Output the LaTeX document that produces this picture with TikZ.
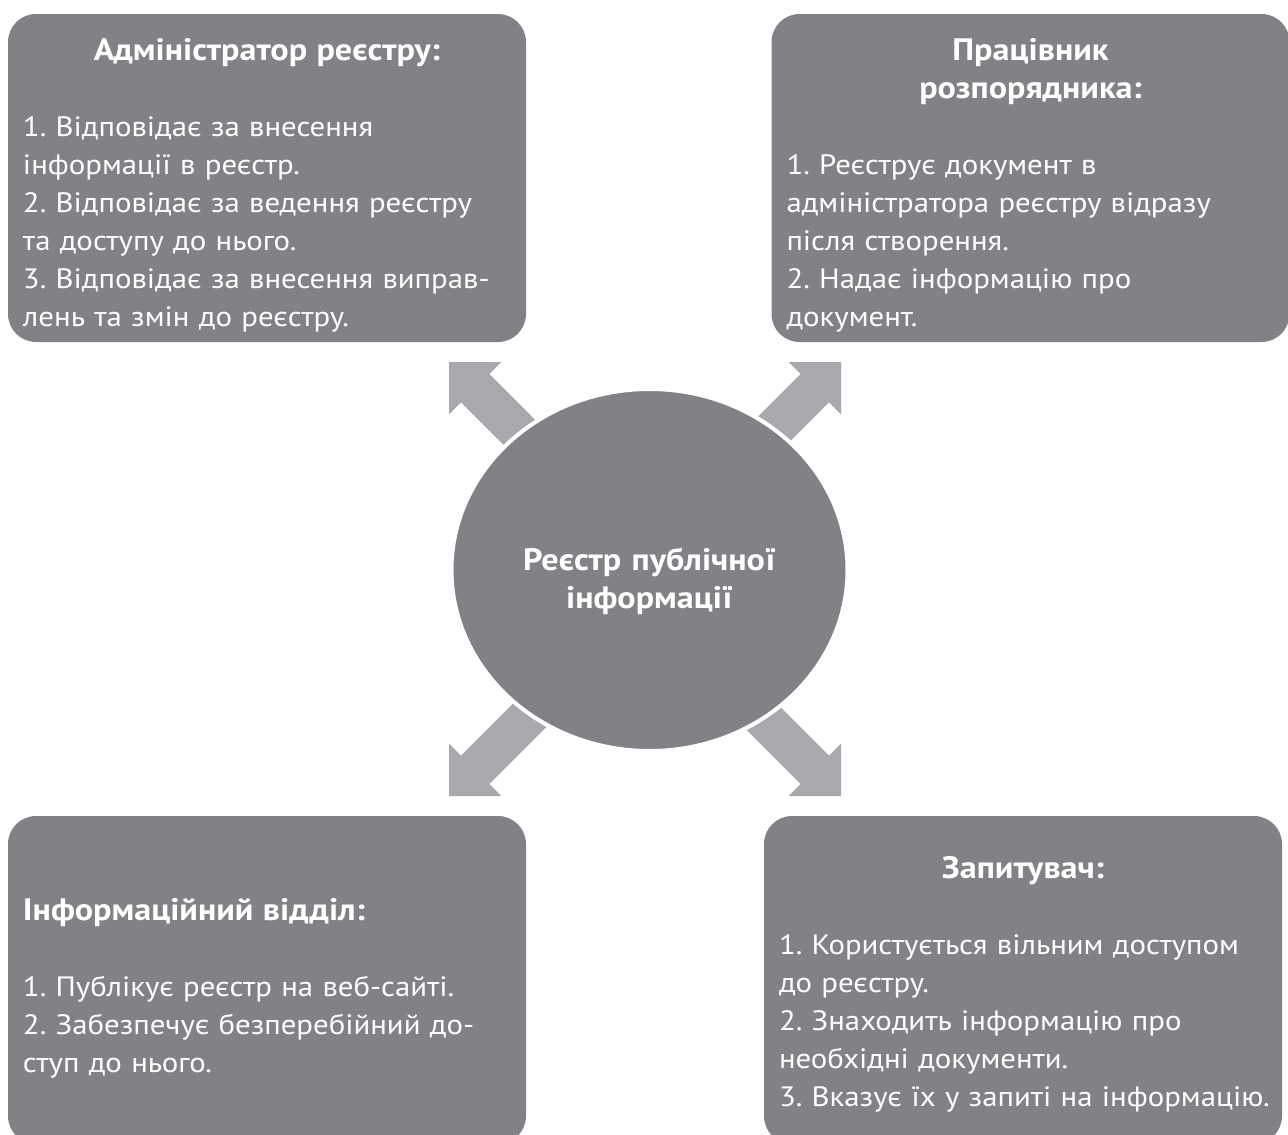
\documentclass[tikz,border=0pt]{standalone}
\usepackage{fontspec}
\setmainfont{PT Sans}[FakeStretch=1.1]
\usetikzlibrary{shapes.geometric,arrows.meta}
\definecolor{boxgrey}{HTML}{808285}
\definecolor{arrowgrey}{HTML}{A7A9AC}
\newcommand{\boxtitle}[2][\centering]{{#1\bfseries\fontsize{31}{38}\selectfont #2\par}\vspace{38pt}}

\begin{document}
\begin{tikzpicture}[x=1pt, y=-1pt,
  panel/.style={fill=boxgrey, rounded corners=28pt, minimum width=518pt, minimum height=328pt,
    text=white, text width=488pt, inner xsep=15pt, inner ysep=0pt, align=left,
    font=\fontsize{28}{38}\selectfont\frenchspacing},
  hub/.style={ellipse, fill=boxgrey, draw=white, line width=4pt, minimum width=396pt,
    minimum height=362pt, text=white, text width=272pt, align=center, text height=44pt,
    text depth=44pt, font=\bfseries\fontsize{31}{38}\selectfont},
  pointer/.style={draw=arrowgrey, line width=40pt, -{Triangle[width=74pt,length=37pt,line width=0pt]}}]
\path[use as bounding box, clip] (0,0) rectangle (1288,1135);
% the four panels
\node[panel, text height=46pt, text depth=282pt] (admin) at (267,178) {\boxtitle{Адміністратор реєстру:}%
1. Відповідає за внесення\\%
інформації в реєстр.\\%
2. Відповідає за ведення реєстру\\%
та доступу до нього.\\%
3. Відповідає за внесення виправ-\\%
лень та змін до реєстру.};
\node[panel, text height=46pt, text depth=282pt] (worker) at (1030.5,178) {\boxtitle{Працівник\\розпорядника:}%
1. Реєструє документ в\\%
адміністратора реєстру відразу\\%
після створення.\\%
2. Надає інформацію про\\%
документ.};
\node[panel, text height=104pt, text depth=224pt] (infodept) at (267,980) {\boxtitle[\raggedright]{Інформаційний відділ:}%
1. Публікує реєстр на веб-сайті.\\%
2. Забезпечує безперебійний до-\\%
ступ до нього.};
\node[panel, text height=62pt, text depth=266pt] (requester) at (1023,980) {\boxtitle{Запитувач:}%
\mbox{1. Користується вільним доступом}\\%
до реєстру.\\%
2. Знаходить інформацію про\\%
необхідні документи.\\%
\mbox{3. Вказує їх у запиті на інформацію.}};
% arrow tips and tails
\coordinate (tipA) at (449,362);
\coordinate (tipB) at (841,362);
\coordinate (tipC) at (449,796);
\coordinate (tipD) at (841,796);
\coordinate (tailA) at (599,512);
\coordinate (tailB) at (691,512);
\coordinate (tailC) at (599,646);
\coordinate (tailD) at (691,646);
\draw[pointer] (tailA) -- (tipA);
\draw[pointer] (tailB) -- (tipB);
\draw[pointer] (tailC) -- (tipC);
\draw[pointer] (tailD) -- (tipD);
% centre
\node[hub] (registry) at (649.5,570) {Реєстр публічної\\інформації};
\end{tikzpicture}
\end{document}
